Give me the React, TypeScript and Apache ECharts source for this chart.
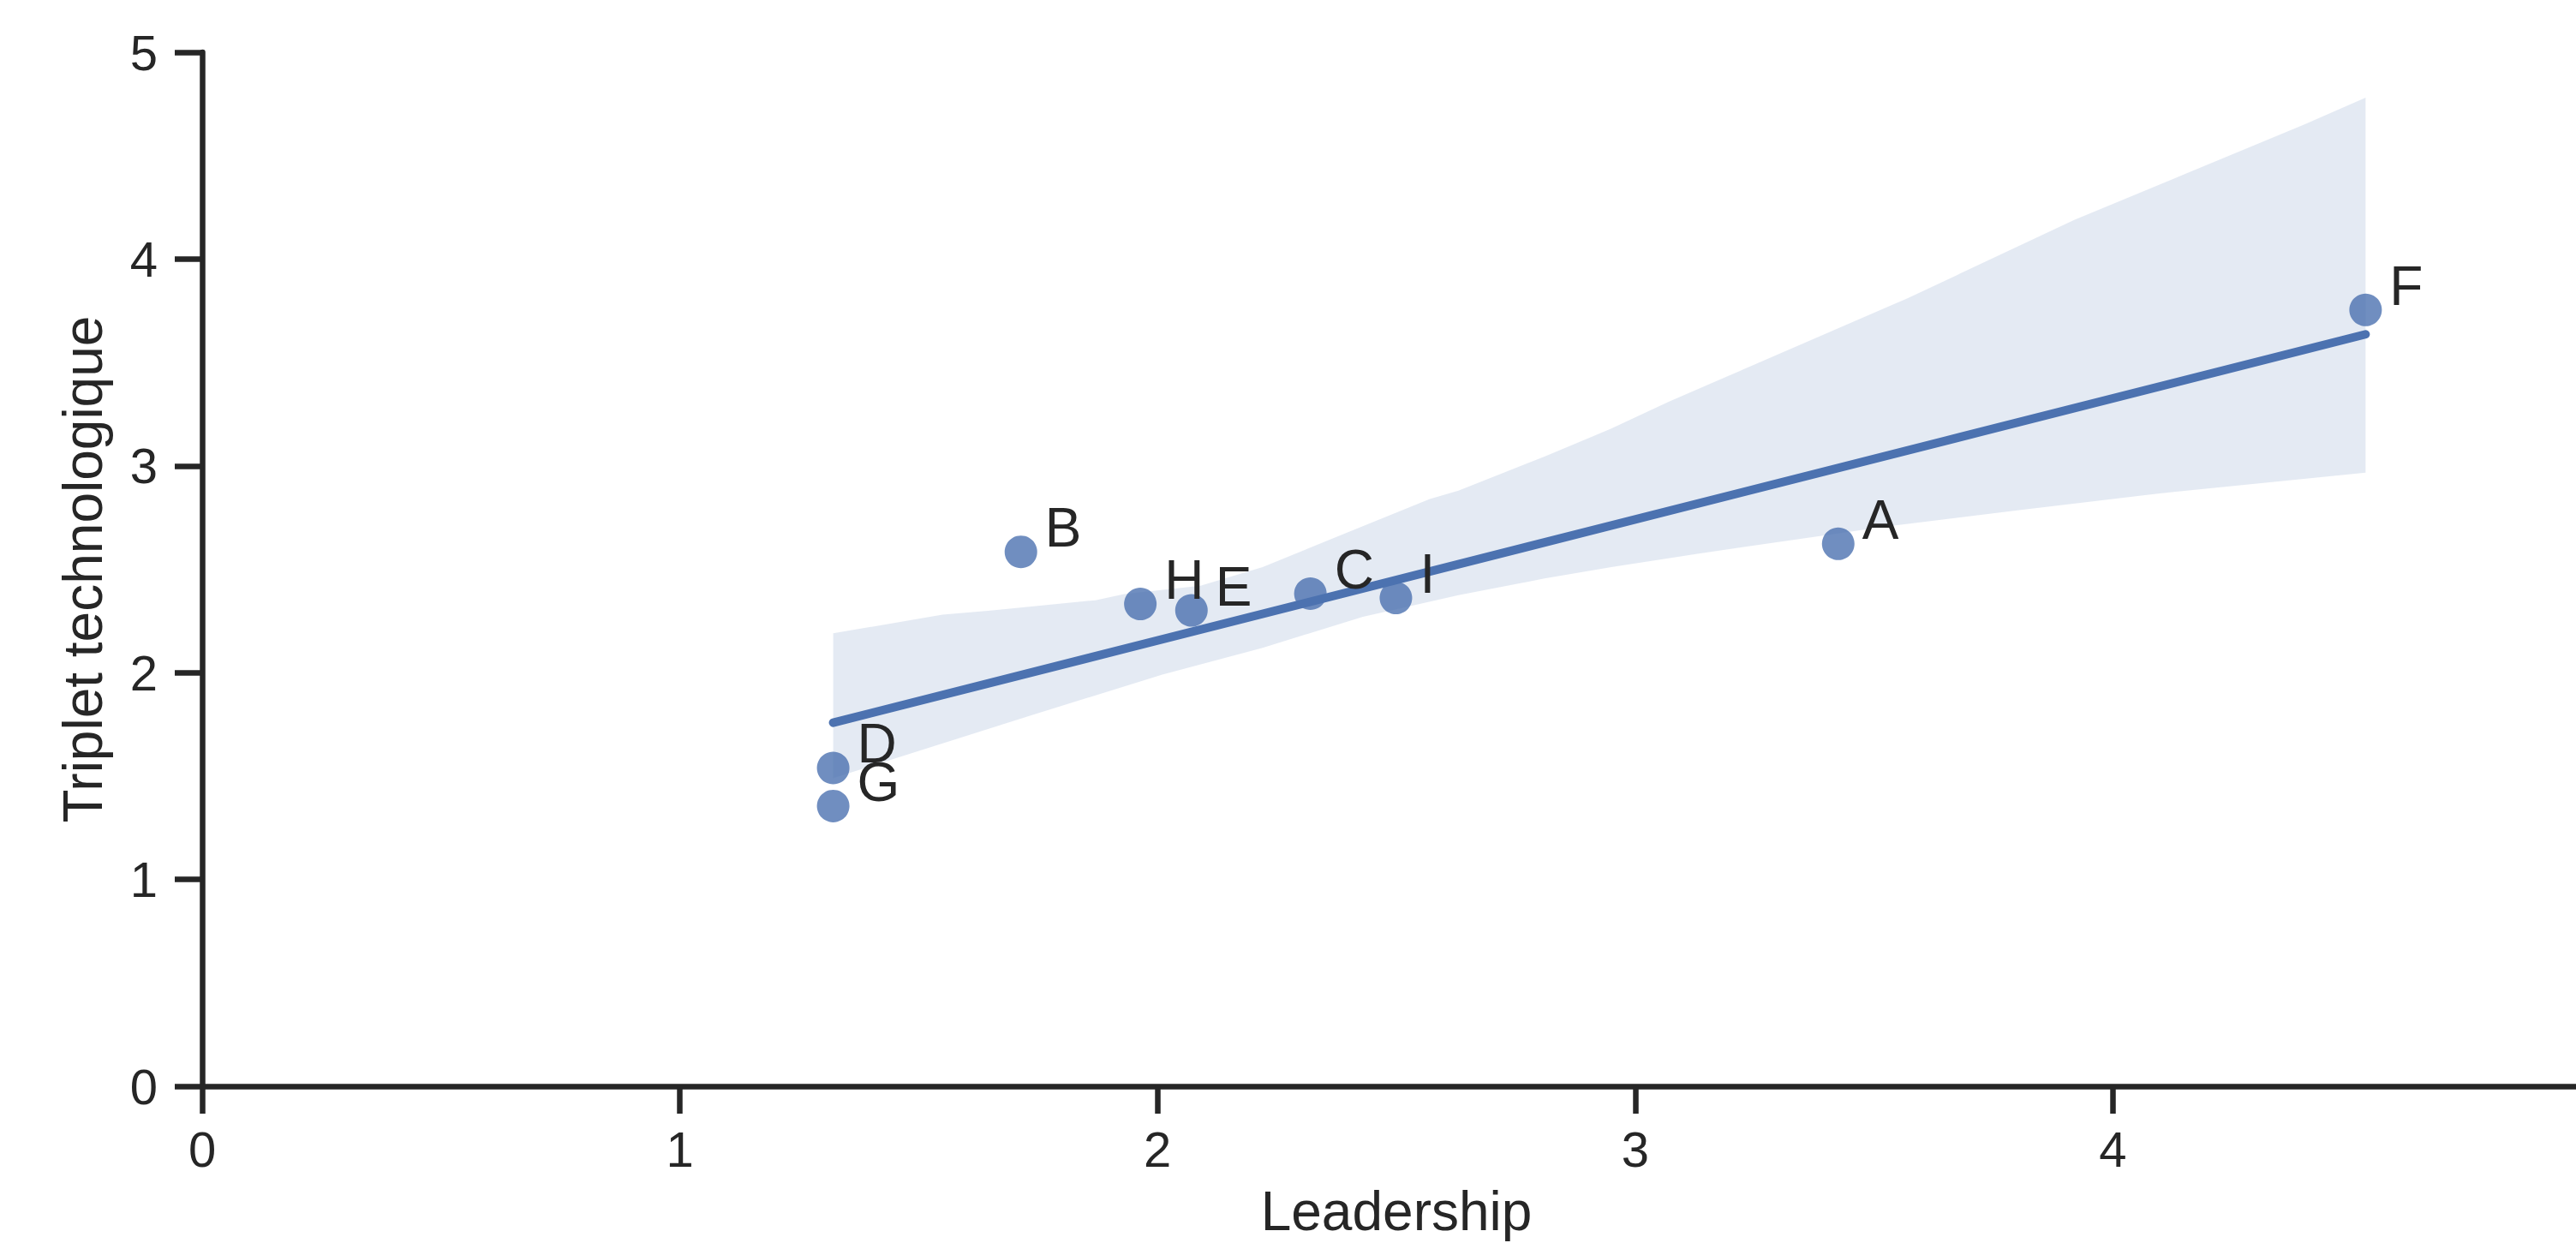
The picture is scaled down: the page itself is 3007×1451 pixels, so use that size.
import React, { useEffect, useRef } from "react";
import * as echarts from "echarts";

// Points
const names = ["A", "B", "C", "D", "E", "F", "G", "H", "I"];
const leadership = [3.425, 1.714, 2.32, 1.321, 2.071, 4.529, 1.321, 1.964, 2.499];
const triplet = [2.623, 2.584, 2.382, 1.539, 2.301, 3.754, 1.355, 2.332, 2.361];

// Regression line end points
const regX = [1.321, 4.529];
const regY = [1.758, 3.636];

// Confidence band edges
const bandUpperX = [1.321, 1.55, 1.65, 1.87, 1.93, 2.09, 2.22, 2.4, 2.57, 2.63, 2.81, 2.95, 3.07, 3.19, 3.34, 3.52, 3.57, 3.92, 4.4, 4.529];
const bandUpperY = [2.19, 2.28, 2.3, 2.35, 2.38, 2.42, 2.51, 2.68, 2.84, 2.88, 3.045, 3.18, 3.31, 3.43, 3.58, 3.76, 3.81, 4.19, 4.65, 4.78];
const bandLowerX = [1.321, 1.73, 2.01, 2.22, 2.43, 2.63, 2.81, 2.95, 3.13, 3.34, 3.52, 3.8, 4.09, 4.529];
const bandLowerY = [1.49, 1.79, 1.99, 2.12, 2.27, 2.375, 2.455, 2.51, 2.575, 2.645, 2.705, 2.785, 2.865, 2.967];

const xName = "Leadership";
const yName = "Triplet technologique";

const FONT = "'Liberation Sans', Arial, sans-serif";
const INK = "#262626";
const BLUE = "#4c72b0";

export default function App() {
  const ref = useRef<HTMLDivElement>(null);

  useEffect(() => {
    if (!ref.current) return;
    const chart = echarts.init(ref.current, null, { renderer: "svg" });
    const pts = names.map((n, i) => ({ name: n, value: [leadership[i], triplet[i]] }));

    const axisCommon = {
      type: "value",
      min: 0,
      max: 5,
      interval: 1,
      splitLine: { show: false },
      axisLine: { show: true, lineStyle: { color: INK, width: 6.5 } },
      axisTick: { show: true, length: 32, lineStyle: { color: INK, width: 6.5 } },
      nameLocation: "middle",
      nameTextStyle: { fontFamily: FONT, fontSize: 64, color: INK },
    };

    chart.setOption({
      animation: false,
      backgroundColor: "#ffffff",
      textStyle: { fontFamily: FONT },
      grid: { left: 236, right: 16, top: 61, bottom: 183, containLabel: false },
      xAxis: {
        ...axisCommon,
        name: xName,
        nameGap: 114,
        axisLabel: {
          fontFamily: FONT,
          fontSize: 58,
          color: INK,
          margin: 44,
          showMaxLabel: false,
        },
      },
      yAxis: {
        ...axisCommon,
        name: yName,
        nameGap: 107,
        axisLabel: { fontFamily: FONT, fontSize: 58, color: INK, margin: 52 },
      },
      series: [
        {
          type: "scatter",
          data: pts,
          symbolSize: 38,
          itemStyle: { color: BLUE, opacity: 0.8 },
          z: 2,
        },
        {
          type: "custom",
          data: [[bandUpperX[0], bandUpperY[0]]],
          z: 3,
          renderItem: (params: any, api: any) => {
            const poly: number[][] = [];
            for (let i = 0; i < bandUpperX.length; i++) poly.push(api.coord([bandUpperX[i], bandUpperY[i]]));
            for (let i = bandLowerX.length - 1; i >= 0; i--) poly.push(api.coord([bandLowerX[i], bandLowerY[i]]));
            return {
              type: "polygon",
              shape: { points: poly },
              style: { fill: BLUE, opacity: 0.15 },
            };
          },
        },
        {
          type: "line",
          data: regX.map((x, i) => [x, regY[i]]),
          showSymbol: false,
          symbol: "none",
          lineStyle: { color: BLUE, width: 10, cap: "round" },
          z: 4,
        },
        {
          type: "scatter",
          data: pts,
          symbolSize: 38,
          itemStyle: { color: "rgba(0,0,0,0)", opacity: 1 },
          z: 10,
          label: {
            show: true,
            formatter: (p: any) => p.name,
            position: "right",
            distance: 9,
            offset: [0, -28],
            fontFamily: FONT,
            fontSize: 64,
            color: INK,
            opacity: 1,
            textBorderWidth: 0,
          },
        },
      ],
    });
    return () => chart.dispose();
  }, []);

  return (
    <div
      style={{
        position: "fixed",
        left: 0,
        top: 0,
        width: 3007,
        height: 1451,
        overflow: "hidden",
        background: "#fff",
      }}
    >
      <div ref={ref} style={{ width: 3040, height: 1451 }} />
    </div>
  );
}
